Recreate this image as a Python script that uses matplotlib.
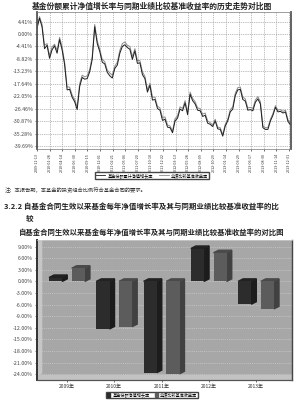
import numpy as np
import matplotlib
matplotlib.use("Agg")
import matplotlib.pyplot as plt
from matplotlib.patches import Polygon, Rectangle, Patch
from matplotlib.lines import Line2D

plt.rcParams['font.family'] = ['Noto Sans CJK SC', 'DejaVu Sans']

# --- line chart data (cumulative %) ---
fund_nav = [2.0, 5.6, 2.6, -5.2, -4.0, -8.6, -5.6, -4.2, -6.8, -2.0,
            -5.6, -10.8, -19.8, -19.6, -22.4, -24.0, -26.8, -18.6, -15.4, -16.0,
            -15.8, -13.4, -9.0, 2.6, -3.4, -6.2, -10.0, -10.6, -13.6, -14.8,
            -15.6, -12.2, -11.0, -6.8, -4.4, -3.8, -4.8, -5.4, -9.0, -6.0,
            -10.4, -10.2, -14.4, -15.8, -20.6, -18.2, -23.4, -23.2, -26.4, -27.0,
            -30.6, -30.2, -33.0, -33.2, -35.0, -30.8, -29.8, -26.6, -27.2, -24.4,
            -28.6, -21.4, -23.6, -24.8, -27.0, -27.2, -29.2, -28.8, -31.6, -32.0,
            -32.8, -30.8, -33.6, -33.8, -36.2, -32.6, -30.8, -27.6, -26.6, -21.8,
            -19.8, -19.6, -23.2, -23.8, -27.0, -26.8, -27.2, -24.2, -23.0, -24.8,
            -33.2, -33.8, -33.8, -30.8, -28.8, -26.0, -27.6, -27.4, -28.0, -27.6,
            -31.0, -32.2]
bench_ret = [2.6, 6.2, 3.4, -4.0, -3.4, -7.6, -4.6, -3.6, -5.8, -1.2,
             -4.6, -10.0, -18.8, -18.8, -21.6, -23.2, -25.8, -17.6, -14.6, -15.2,
             -14.8, -12.6, -8.0, 3.4, -2.4, -5.4, -9.0, -9.8, -12.8, -13.8,
             -14.6, -11.4, -10.0, -5.8, -3.4, -2.8, -4.0, -4.4, -8.0, -5.2,
             -9.4, -9.4, -13.4, -15.0, -19.8, -17.4, -22.4, -22.4, -25.6, -26.2,
             -29.6, -29.4, -32.2, -32.6, -34.4, -30.0, -29.0, -25.8, -26.4, -23.6,
             -27.8, -20.6, -22.8, -24.0, -26.2, -26.4, -28.4, -28.0, -30.8, -31.4,
             -32.2, -30.2, -33.0, -33.2, -35.6, -32.0, -30.2, -26.8, -25.8, -21.0,
             -19.0, -18.8, -22.4, -23.0, -26.2, -26.0, -26.4, -23.4, -22.2, -24.0,
             -32.6, -33.2, -33.2, -30.2, -28.2, -25.4, -27.0, -26.8, -27.4, -27.0,
             -30.4, -31.6]
date_labels = ["2009-11-13", "2010-01-28", "2010-04-14", "2010-06-30", "2010-09-15",
               "2010-12-01", "2011-02-21", "2011-05-06", "2011-07-20", "2011-10-10",
               "2011-12-22", "2012-03-13", "2012-05-28", "2012-08-09", "2012-10-29",
               "2013-01-14", "2013-03-29", "2013-06-17", "2013-08-30", "2013-11-14",
               "2013-12-31"]
line_yticks = [4.41, 0.00, -4.41, -8.82, -13.23, -17.64, -22.05, -26.46, -30.87, -35.28, -39.69]

# --- bar chart data (yearly %) ---
years = ["2009年", "2010年", "2011年", "2012年", "2013年"]
fund_year = [1.0, -12.3, -23.6, 8.5, -5.9]
bench_year = [3.4, -11.7, -23.9, 7.4, -7.1]
bar_yticks = [9, 6, 3, 0, -3, -6, -9, -12, -15, -18, -21, -24]

W, H = 300, 403
fig = plt.figure(figsize=(W / 100, H / 100), dpi=100)


def fx(px):
    return px / W


def fy(py):
    return 1 - py / H


fig.text(fx(152), fy(6), "基金份额累计净值增长率与同期业绩比较基准收益率的历史走势对比图",
         ha='center', va='center', fontsize=5.6, fontweight='bold', color='#222222')

# ---------------- line chart ----------------
ax1 = fig.add_axes([fx(37), fy(149), fx(291 - 37), (149 - 12) / H])
x = np.arange(len(fund_nav))
ax1.plot(x, bench_ret, color='#8c8c8c', lw=0.7)
ax1.plot(x, fund_nav, color='#1e1e1e', lw=0.7)
ax1.set_xlim(0, 101.2)
ax1.set_ylim(-40.75, 7.8)
ax1.set_yticks(line_yticks)
ax1.set_yticklabels(["%.2f%%" % v for v in line_yticks], fontsize=3.8, color='#444444')
ax1.set_xticks(np.linspace(0, 100.4, len(date_labels)))
ax1.set_xticklabels(date_labels, rotation=90, fontsize=2.7, color='#333333')
ax1.tick_params(length=1.5, width=0.4, pad=1.2)
ax1.grid(True, ls=(0, (2, 1.5)), color='#9a9a9a', lw=0.45)
for s in ['left', 'right']:
    ax1.spines[s].set_linewidth(1.3)
    ax1.spines[s].set_color('#555555')
for s in ['top', 'bottom']:
    ax1.spines[s].set_linewidth(0.5)
    ax1.spines[s].set_color('#777777')

h1 = [Line2D([], [], color='#1e1e1e', lw=0.6), Line2D([], [], color='#8c8c8c', lw=0.6)]
fig.legend(h1, ["基金份额累计净值增长率", "业绩比较基准收益率"], loc='center',
           bbox_to_anchor=(fx(152), fy(175.5)), ncol=2, fontsize=3.0, frameon=True,
           fancybox=False, edgecolor='#444444', handlelength=2.2, handletextpad=0.5,
           columnspacing=1.6, borderpad=0.25, framealpha=1)

fig.text(fx(5), fy(190), "注：本报告期，本基金的投资组合比例符合基金合同的要求。",
         ha='left', va='center', fontsize=3.8, color='#333333')
fig.text(fx(4), fy(206), "3.2.2 自基金合同生效以来基金每年净值增长率及其与同期业绩比较基准收益率的比",
         ha='left', va='center', fontsize=5.4, fontweight='bold', color='#222222')
fig.text(fx(26), fy(218), "较", ha='left', va='center', fontsize=5.4,
         fontweight='bold', color='#222222')
fig.text(fx(152), fy(232), "自基金合同生效以来基金每年净值增长率及其与同期业绩比较基准收益率的对比图",
         ha='center', va='center', fontsize=5.3, fontweight='bold', color='#222222')

# ---------------- bar chart ----------------
ax2 = fig.add_axes([fx(37), fy(380), fx(292 - 37), (380 - 240) / H])
ax2.set_facecolor('#a7a7a7')
ax2.set_xlim(-0.635, 4.76)
ax2.set_ylim(-25.5, 10.7)
ax2.set_yticks(bar_yticks)
ax2.set_yticklabels(["%.2f%%" % v for v in bar_yticks], fontsize=3.8, color='#444444')
ax2.grid(True, axis='y', ls=(0, (1.5, 1.5)), color='#cdcdcd', lw=0.5)
ax2.set_axisbelow(True)

# wall and floor
ax2.add_patch(Polygon([(0, 0.03), (0.018, 0.05), (0.018, 1), (0, 0.985)], closed=True,
                      transform=ax2.transAxes, color='#c6c6c6', zorder=0.5))
ax2.add_patch(Rectangle((0, 0), 1, 0.035, transform=ax2.transAxes,
                        color='#c2c2c2', zorder=0.5))

pos = np.arange(len(years))
w = 0.28
dx, dy = 0.105, 0.65
series = [(fund_year, -0.24, '#2c2c2c', '#1c1c1c', '#222222'),
          (bench_year, 0.24, '#5c5c5c', '#414141', '#4a4a4a')]
for vals, off, c_front, c_side, c_top in series:
    ax2.bar(pos + off, vals, width=w, color=c_front, zorder=3)
    for p, v in zip(pos, vals):
        x0, x1 = p + off - w / 2, p + off + w / 2
        ax2.add_patch(Polygon([(x1, 0), (x1 + dx, dy), (x1 + dx, v + dy), (x1, v)],
                              closed=True, color=c_side, zorder=2.9))
        top = max(v, 0)
        ax2.add_patch(Polygon([(x0, top), (x0 + dx, top + dy), (x1 + dx, top + dy), (x1, top)],
                              closed=True, color=c_top, zorder=2.9))

ax2.set_xticks(pos)
ax2.set_xticklabels(years, fontsize=3.6, color='#333333')
ax2.tick_params(length=1.5, width=0.4, pad=1.5)
ax2.spines['left'].set_linewidth(1.4)
ax2.spines['left'].set_color('#333333')
ax2.spines['bottom'].set_linewidth(0.9)
ax2.spines['bottom'].set_color('#555555')
ax2.spines['right'].set_linewidth(1.0)
ax2.spines['right'].set_color('#444444')
ax2.spines['top'].set_linewidth(0.5)
ax2.spines['top'].set_color('#cfcfcf')

h2 = [Patch(color='#2c2c2c'), Patch(color='#5c5c5c')]
fig.legend(h2, ["基金份额净值增长率", "业绩比较基准收益率"], loc='center',
           bbox_to_anchor=(fx(152), fy(395)), ncol=2, fontsize=3.0, frameon=True,
           fancybox=False, edgecolor='#444444', handlelength=0.8, handleheight=0.8,
           handletextpad=0.5, columnspacing=1.2, borderpad=0.25, framealpha=1)

fig.savefig("out.png", dpi=100)
